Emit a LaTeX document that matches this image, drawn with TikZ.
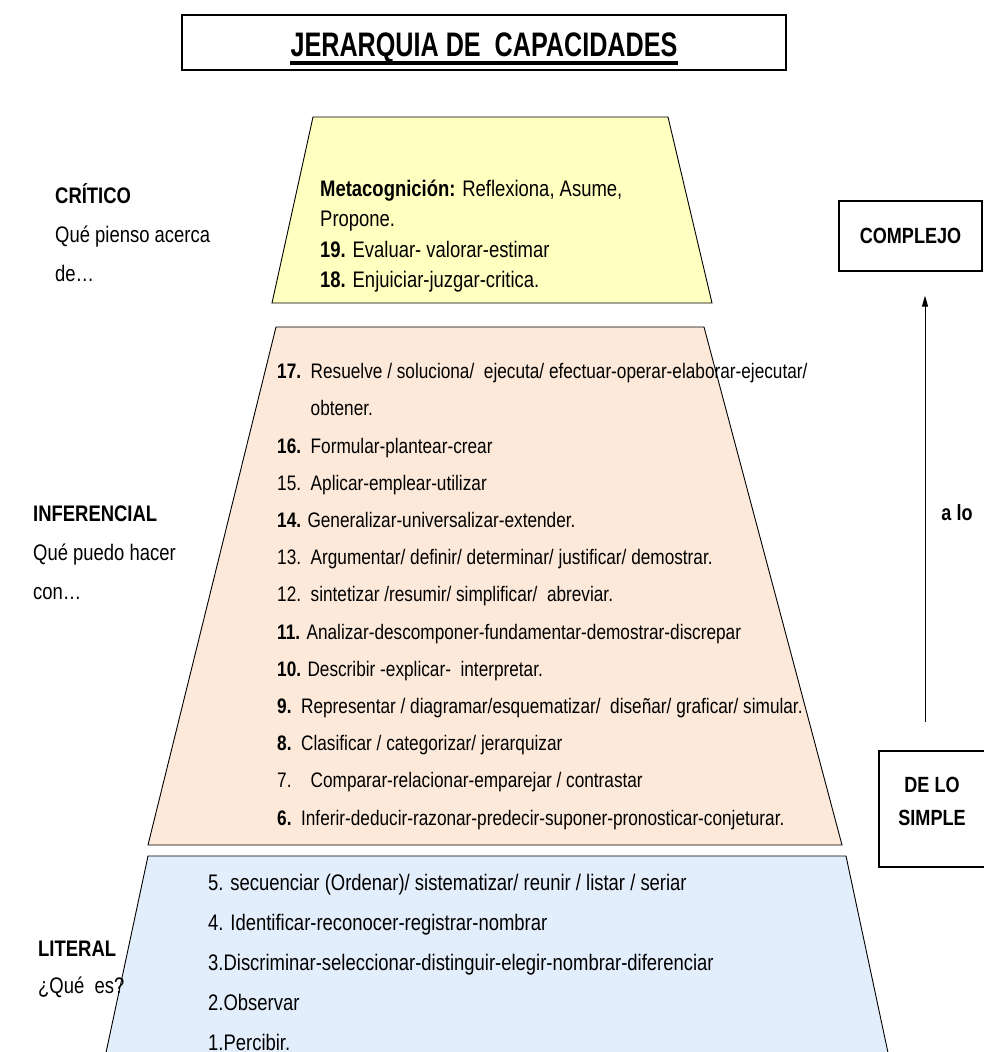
\documentclass[tikz,border=0pt]{standalone}
\usepackage{fontspec}
\setmainfont[FakeStretch=0.82]{Liberation Sans}
\newfontfamily\titlefont[FakeStretch=0.74]{Liberation Sans}
\usepackage{tikz}
\usetikzlibrary{arrows.meta}

\definecolor{critfill}{HTML}{FFFFC0}
\definecolor{inffill}{HTML}{FDE9D9}
\definecolor{litfill}{HTML}{E3EEFC}

% la primera linea de cada bloque tiene 24pt sobre la base
\newcommand{\capstrut}{\rule{0pt}{24pt}}

\tikzset{
  txt/.style={anchor=north west, inner sep=0pt, align=left},
  tag/.style={draw, line width=1.2pt},
  bold/.style={inner sep=0pt, align=center, font=\fontsize{22}{33}\selectfont\bfseries},
  level/.style={line width=0.9pt},
}

\begin{document}
\begin{tikzpicture}[x=1pt,y=-1pt]
        \useasboundingbox (0,0) rectangle (984,1052);
        % titulo
        \node[draw, line width=1.2pt, minimum width=604pt, minimum height=55pt] (titlebox) at (484,42.5) {};
        \node[anchor=base, inner sep=0pt, font=\fontsize{34}{34}\titlefont\bfseries] (title) at (484,56.5) {JERARQUIA DE\ \ CAPACIDADES};
        \draw[line width=3.5pt] ([yshift=-6.5pt]title.base west) -- ([yshift=-6.5pt]title.base east);

        % niveles de la piramide (relleno)
        \fill[critfill] (313,117) -- (668,117) -- (712,303) -- (272,303) -- cycle;
        \fill[inffill] (276,327) -- (704,327) -- (842,845) -- (148,845) -- cycle;
        \fill[litfill] (148,856) -- (846,856) -- (890,1062) -- (104,1062) -- cycle;

        \node[txt, font=\fontsize{22.5}{30.5}\selectfont] (capcrit) at (320,172) {\capstrut\textbf{Metacognición:} Reflexiona, Asume,\\Propone.\\\textbf{19.} Evaluar- valorar-estimar\\\textbf{18.} Enjuiciar-juzgar-critica.};
        \node[txt, font=\fontsize{21}{37.2}\selectfont] (capinf) at (277,354.5) {\capstrut\textbf{17.}\ \ Resuelve / soluciona/\ \ ejecuta/ efectuar-operar-elaborar-ejecutar/\\
            \phantom{\textbf{17.}\ \ }obtener.\\
            \textbf{16.}\ \ Formular-plantear-crear\\
            15.\ \ Aplicar-emplear-utilizar\\
            \textbf{14.} Generalizar-universalizar-extender.\\
            13.\ \ Argumentar/ definir/ determinar/ justificar/ demostrar.\\
            12.\ \ sintetizar /resumir/ simplificar/\ \ abreviar.\\
            \textbf{11.} Analizar-descomponer-fundamentar-demostrar-discrepar\\
            \textbf{10.} Describir -explicar-\ \ interpretar.\\
            \textbf{9.}\ \ Representar / diagramar/esquematizar/\ \ diseñar/ graficar/ simular.\\
            \textbf{8.}\ \ Clasificar / categorizar/ jerarquizar\\
            7.\ \ \ \ Comparar-relacionar-emparejar / contrastar\\
            \textbf{6.}\ \ Inferir-deducir-razonar-predecir-suponer-pronosticar-conjeturar.};
        \node[txt, font=\fontsize{22.5}{40}\selectfont] (caplit) at (208,866) {\capstrut 5. secuenciar (Ordenar)/ sistematizar/ reunir / listar / seriar\\
            4. Identificar-reconocer-registrar-nombrar\\
            3.Discriminar-seleccionar-distinguir-elegir-nombrar-diferenciar\\
            2.Observar\\
            1.Percibir.};

        % niveles de la piramide (borde, encima del texto)
        \draw[level] (313,117) -- (668,117) -- (712,303) -- (272,303) -- cycle;
        \draw[level] (276,327) -- (704,327) -- (842,845) -- (148,845) -- cycle;
        \draw[level] (148,856) -- (846,856) -- (890,1062) -- (104,1062) -- cycle;

        % etiquetas de la izquierda
        \node[txt, font=\fontsize{22.5}{39}\selectfont] (critico) at (55,179) {\capstrut\textbf{CRÍTICO}\\Qué pienso acerca\\de…};
        \node[txt, font=\fontsize{22.5}{39}\selectfont] (inferencial) at (33,497) {\capstrut\textbf{INFERENCIAL}\\Qué puedo hacer\\con…};
        \node[txt, font=\fontsize{22.5}{37}\selectfont] (literal) at (38,932) {\capstrut\textbf{LITERAL}\\¿Qué\ \ es?};

        % de lo simple a lo complejo
        \node[tag, minimum width=143pt, minimum height=70pt] (complejo) at (910.5,236) {};
        \node[bold] (complejotxt) at (complejo.center) {COMPLEJO};
        \node[tag, minimum width=106pt, minimum height=116pt] (simple) at (932,809) {};
        \node[bold, yshift=7.5pt] (simpletxt) at (simple.center) {DE LO\\SIMPLE};
        \node[bold] (alo) at (957,513) {a lo};
        \coordinate (down) at ([xshift=-7pt,yshift=28pt]simple.north);
        \draw[line width=1pt, shorten >=24pt, -{Triangle[length=11pt,width=6pt]}] (down) -- (down |- complejo.south);
\end{tikzpicture}
\end{document}
